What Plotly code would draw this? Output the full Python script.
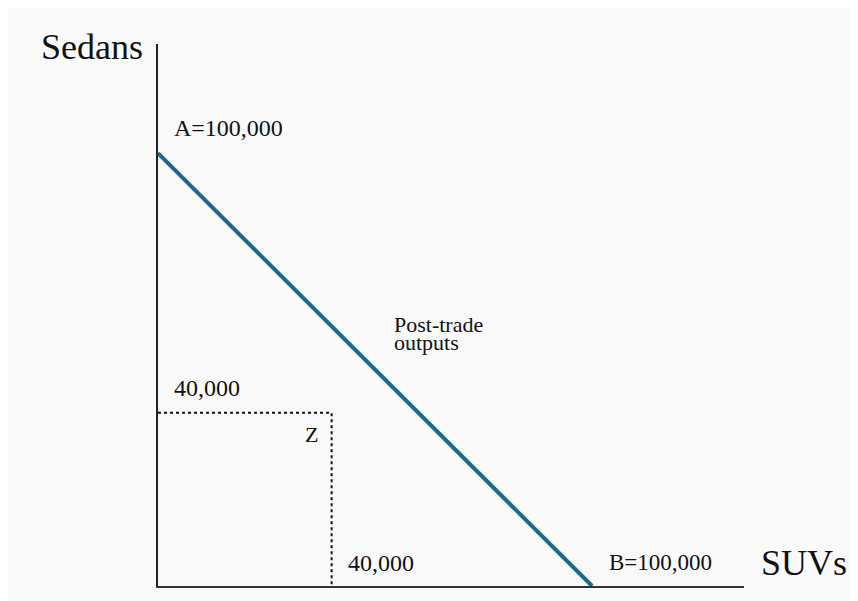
import plotly.graph_objects as go

# Data
ppf_x = [0, 100000]          # SUVs
ppf_y = [100000, 0]          # Sedans
z_x = [0, 40000, 40000]
z_y = [40000, 40000, 0]
a_label = "A=100,000"
b_label = "B=100,000"
tick_label = "40,000"
x_title = "SUVs"
y_title = "Sedans"

FONT = "Liberation Serif, Times New Roman, serif"

fig = go.Figure()
fig.add_trace(go.Scatter(x=z_x, y=z_y, mode="lines",
                         line=dict(color="#111111", width=2, dash="dot"),
                         hoverinfo="skip", showlegend=False))
fig.add_trace(go.Scatter(x=ppf_x, y=ppf_y, mode="lines",
                         line=dict(color="#1a6b8c", width=4),
                         hoverinfo="skip", showlegend=False))

def ann(x, y, text, xs, ys, size, xanchor="left", xref="x", yref="y"):
    fig.add_annotation(x=x, y=y, xref=xref, yref=yref, text=text, showarrow=False,
                       xanchor=xanchor, yanchor="middle", xshift=xs, yshift=ys,
                       font=dict(family=FONT, size=size, color="#111111"))

ann(ppf_x[0], ppf_y[0], a_label, 14, 25, 24)
ann(ppf_x[1], ppf_y[1], b_label, 15, 24, 23)
ann(z_x[0], z_y[0], tick_label, 14, 25, 24)
ann(z_x[2], z_y[2], tick_label, 14, 23, 24)
ann(z_x[1], z_y[1], "Z", -20, -22, 22, xanchor="center")
ann(50000, 50000, "Post-trade", 17, 45, 22)
ann(50000, 50000, "outputs", 17, 27, 22)
ann(-0.022, 0.9945, y_title, 0, 0, 36, xanchor="right", xref="paper", yref="paper")
ann(1.0256, 0.042, x_title, 0, 0, 36, xanchor="left", xref="paper", yref="paper")

fig.update_layout(
    width=850, height=593,
    margin=dict(l=150, r=114, t=36, b=15),
    paper_bgcolor="#fafafa", plot_bgcolor="#fafafa",
    xaxis=dict(range=[0, 135000], showgrid=False, zeroline=False, showticklabels=False,
               ticks="", showline=True, linecolor="#333333", linewidth=2, fixedrange=True),
    yaxis=dict(range=[0, 125200], showgrid=False, zeroline=False, showticklabels=False,
               ticks="", showline=True, linecolor="#222222", linewidth=2, fixedrange=True),
)
fig.write_html("out.html")
